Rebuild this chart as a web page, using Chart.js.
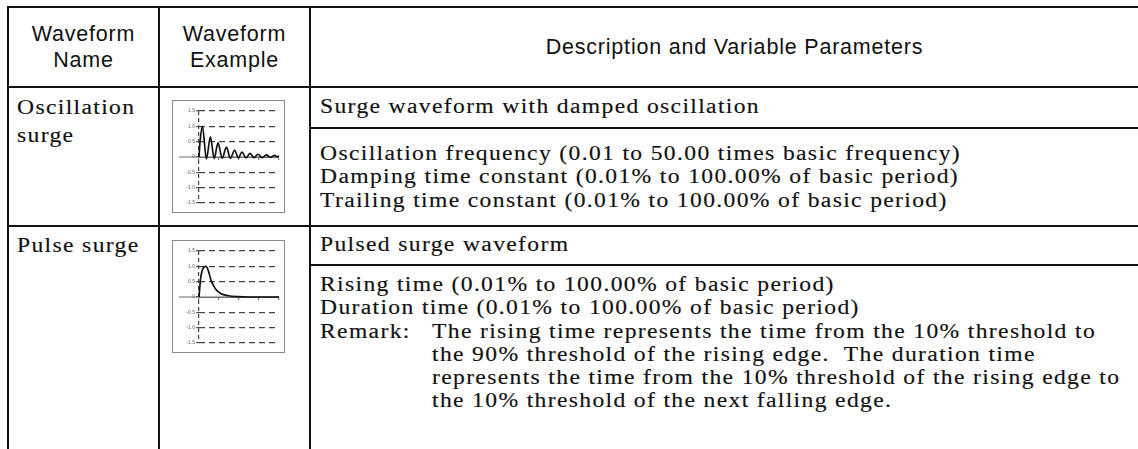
<!DOCTYPE html>
<html>
<head>
<meta charset="utf-8">
<title>Waveform table</title>
<script src="https://cdn.jsdelivr.net/npm/chart.js@4.4.1/dist/chart.umd.min.js"></script>
<style>
    html, body { margin: 0; padding: 0; background: #fff; }
    body { width: 1138px; height: 449px; overflow: hidden; position: relative; color: #111; }
    :root { --ls: 1px; --sx: 1.18; }
    .cell { position: absolute; box-sizing: border-box; border-left: 2px solid #111; border-top: 2px solid #111; }
    .head { font-family: 'Liberation Sans', Arial, sans-serif; font-size: 21.5px; letter-spacing: 0.8px; line-height: 26px;
            display: flex; align-items: center; justify-content: center; text-align: center; }
    .txt { font-family: 'Liberation Serif', serif; font-size: 20px; line-height: 23.3px;
           padding-left: 9px; white-space: nowrap; -webkit-text-stroke: 0.15px #111; }
    .fit { letter-spacing: var(--ls); transform: scaleX(var(--sx)); transform-origin: 0 0; }
    .name { line-height: 28.4px; padding-left: 8px; }
    .remark { display: flex; }
    .remark .lbl { flex: none; width: calc(112px / var(--sx)); }
    .wave { position: absolute; left: 172px; width: 113px; height: 113px; box-sizing: border-box; border: 1px solid #888; }
    .wave canvas { display: block; }
</style>
</head>
<body>

<div class="cell head" style="left:7px; top:6px; width:151px; height:80px;">Waveform<br>Name</div>
<div class="cell head" style="left:158px; top:6px; width:151px; height:80px;">Waveform<br>Example</div>
<div class="cell head" style="left:309px; top:6px; width:849px; height:80px;">Description and Variable Parameters</div>

<div class="cell txt name" style="left:7px; top:86px; width:151px; height:139px; padding-top:5px;"><div class="fit">Oscillation<br>surge</div></div>
<div class="cell" style="left:158px; top:86px; width:151px; height:139px;"></div>
<div class="cell txt" style="left:309px; top:86px; width:900px; height:41px; padding-top:7px;"><div class="fit">Surge waveform with damped oscillation</div></div>
<div class="cell txt" style="left:309px; top:127px; width:900px; height:98px; padding-top:13px;">
    <div class="fit">
        <div>Oscillation frequency (0.01 to 50.00 times basic frequency)</div>
        <div>Damping time constant (0.01% to 100.00% of basic period)</div>
        <div>Trailing time constant (0.01% to 100.00% of basic period)</div>
    </div>
</div>

<div class="cell txt name" style="left:7px; top:225px; width:151px; height:400px; padding-top:4px;"><div class="fit">Pulse surge</div></div>
<div class="cell" style="left:158px; top:225px; width:151px; height:400px;"></div>
<div class="cell txt" style="left:309px; top:225px; width:900px; height:39px; padding-top:6px;"><div class="fit">Pulsed surge waveform</div></div>
<div class="cell txt" style="left:309px; top:264px; width:900px; height:400px; padding-top:7px;">
    <div class="fit">
        <div>Rising time (0.01% to 100.00% of basic period)</div>
        <div>Duration time (0.01% to 100.00% of basic period)</div>
        <div class="remark"><span class="lbl">Remark:</span><span>The rising time represents the time from the 10% threshold to<br>the 90% threshold of the rising edge.&nbsp; The duration time<br>represents the time from the 10% threshold of the rising edge to<br>the 10% threshold of the next falling edge.</span></div>
    </div>
</div>

<div class="wave" style="top:100px;"><canvas id="oscChart" width="111" height="111"></canvas></div>
<div class="wave" style="top:240px;"><canvas id="pulseChart" width="111" height="111"></canvas></div>

<script>
const yTickValues = [-1.5, -1.0, -0.5, 0, 0.5, 1.0, 1.5];
const timeRange = [0, 4];
const baselineSpan = [-1, 4];
const baselineLevel = [0, 0];

// oscillation surge: peaks and troughs
const oscTime = [0, 0.06, 0.17, 0.37, 0.57, 0.76, 0.95, 1.16, 1.37, 1.57, 1.78, 1.97,
    2.15, 2.35, 2.55, 2.75, 2.95, 3.16, 3.37, 3.57, 3.78, 3.9, 4.0];
const oscLevel = [0, 0.55, 1.0, -0.06, 0.66, -0.05, 0.46, -0.04, 0.32, -0.04, 0.22, -0.03,
    0.16, -0.03, 0.12, -0.02, 0.09, -0.02, 0.07, -0.01, 0.05, 0.01, 0.03];

// pulse surge
const pulseTime = [0, 0.08, 0.18, 0.27, 0.35, 0.47, 0.6, 0.72, 0.88, 1.13, 1.47, 1.97, 2.47, 4.0];
const pulseLevel = [0, 0.6, 0.9, 0.99, 1.0, 0.85, 0.55, 0.38, 0.22, 0.1, 0.04, 0.01, 0, 0];

const textStretch = 1.18;

// the original body face is a wide one; widen the serif lines to the same measure
function fitBodyText() {
    const sample = 'Oscillation frequency (0.01 to 50.00 times basic frequency)';
    const ctx = document.createElement('canvas').getContext('2d');
    ctx.font = '20px "Liberation Serif"';
    const w = ctx.measureText(sample).width;
    const ls = (640 / textStretch - w) / (sample.length - 1);
    const root = document.documentElement.style;
    root.setProperty('--sx', String(textStretch));
    root.setProperty('--ls', ls.toFixed(2) + 'px');
}

function toPoints(xs, ys) {
    return xs.map(function (x, i) {
        return { x: x, y: ys[i] };
    });
}

function renderWaveform(id, times, levels) {
    const canvas = document.getElementById(id);

    if (!canvas) {
        return;
    }

    new Chart(canvas, {
        type: 'line',
        data: {
            datasets: [
                {
                    data: toPoints(times, levels),
                    borderColor: '#111',
                    borderWidth: 1.7,
                    pointRadius: 0,
                    cubicInterpolationMode: 'monotone',
                    clip: false,
                },
                {
                    data: toPoints(baselineSpan, baselineLevel),
                    borderColor: '#6a6a6a',
                    borderWidth: 1.2,
                    pointRadius: 0,
                    clip: false,
                },
            ],
        },
        options: {
            responsive: false,
            animation: false,
            events: [],
            devicePixelRatio: 1,
            layout: {
                padding: { left: 12, right: 5, top: 10, bottom: 9 },
            },
            plugins: {
                legend: { display: false },
                tooltip: { enabled: false },
            },
            scales: {
                x: {
                    type: 'linear',
                    min: timeRange[0],
                    max: timeRange[1],
                    position: { y: 0 },
                    ticks: { display: false, stepSize: 1 },
                    grid: {
                        color: function (c) {
                            return c.tick && c.tick.value === 0 ? '#444' : 'rgba(0,0,0,0)';
                        },
                        lineWidth: 1.2,
                        tickLength: 2,
                        tickColor: '#777',
                    },
                    border: { color: '#777', width: 1, dash: [4, 3] },
                },
                y: {
                    type: 'linear',
                    min: -1.5,
                    max: 1.5,
                    position: 'left',
                    afterBuildTicks: function (scale) {
                        scale.ticks = yTickValues.map(function (v) {
                            return { value: v };
                        });
                    },
                    afterFit: function (scale) {
                        scale.width = 14;
                    },
                    ticks: {
                        font: { size: 5, family: 'Liberation Sans' },
                        color: '#666',
                        padding: 1,
                        callback: function (value) {
                            return value === 0 ? '0' : Number(value).toFixed(1);
                        },
                    },
                    grid: {
                        color: function (c) {
                            return c.tick && c.tick.value === 0 ? 'rgba(0,0,0,0)' : '#444';
                        },
                        lineWidth: 1.2,
                        tickLength: 3,
                        tickColor: '#555',
                    },
                    border: { display: false, dash: [6, 4] },
                },
            },
        },
    });
}

fitBodyText();

document.addEventListener('DOMContentLoaded', function () {
    renderWaveform('oscChart', oscTime, oscLevel);
    renderWaveform('pulseChart', pulseTime, pulseLevel);
});
</script>
</body>
</html>
